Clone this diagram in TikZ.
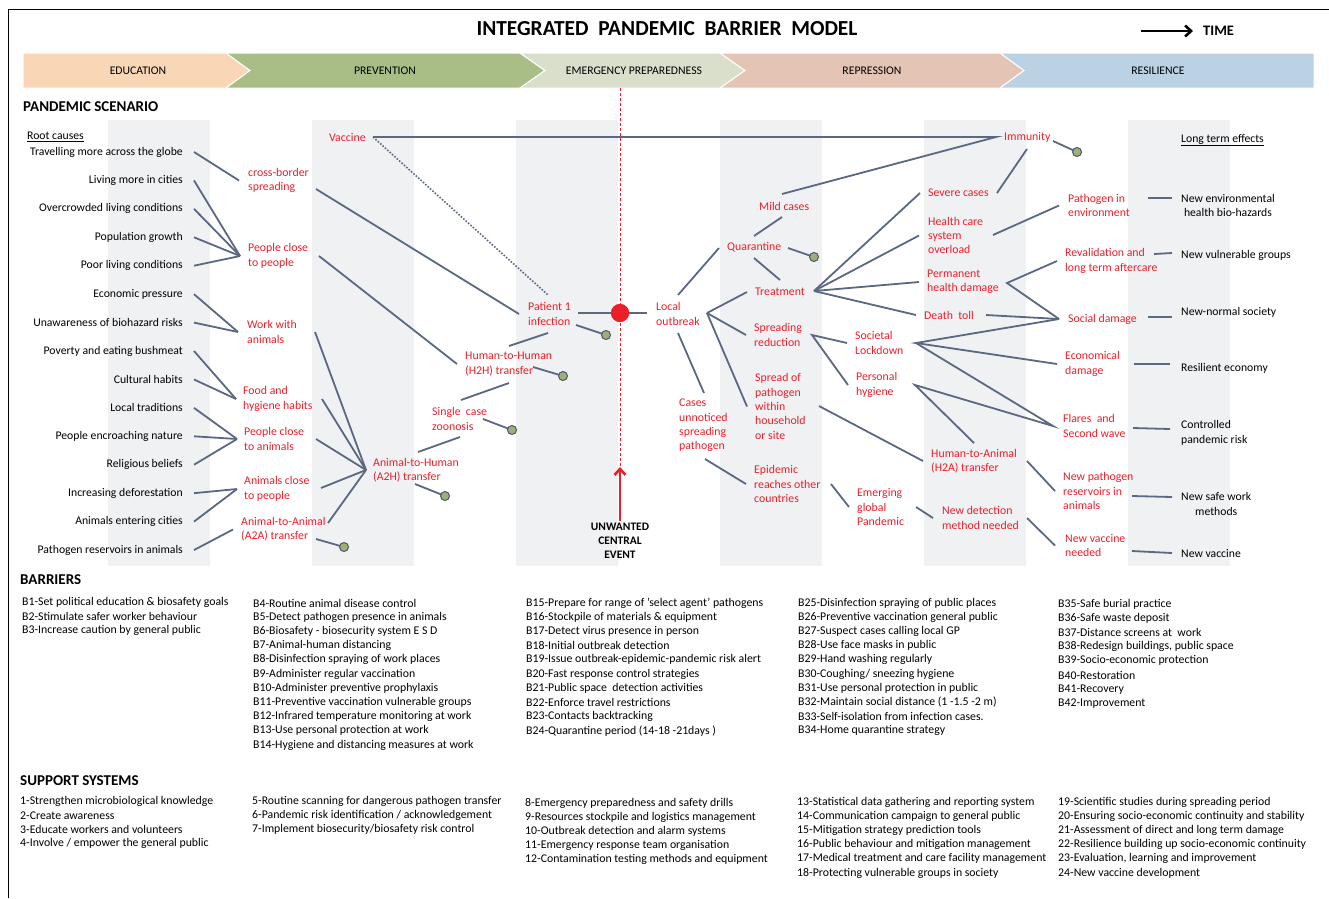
\documentclass[tikz,border=0pt]{standalone}
\usepackage{fontspec}
\setmainfont{Carlito}
\usetikzlibrary{arrows.meta,calc,positioning}

\definecolor{linkgray}{RGB}{90,104,130}
\definecolor{evred}{RGB}{236,30,40}
\definecolor{colgray}{RGB}{240,241,243}
\definecolor{eduC}{RGB}{248,214,182}
\definecolor{prevC}{RGB}{168,190,134}
\definecolor{emerC}{RGB}{217,223,203}
\definecolor{reprC}{RGB}{228,196,181}
\definecolor{resilC}{RGB}{186,210,228}
\definecolor{ballC}{RGB}{158,176,118}

\tikzset{
  link/.style={draw=linkgray, line width=1.8pt},
  cause/.style={anchor=east, inner sep=0pt, font=\fontsize{11.7}{14.3}\selectfont},
  event/.style={anchor=west, inner sep=0pt, align=left, text=evred, font=\fontsize{11.8}{14.4}\selectfont},
  effect/.style={anchor=west, inner sep=0pt, align=left, font=\fontsize{11.7}{14.3}\selectfont},
  ball/.style={circle, draw=linkgray!85!black, fill=ballC, line width=1pt, minimum size=9pt, inner sep=0pt},
  listtxt/.style={anchor=west, inner sep=0pt, font=\fontsize{11.8}{14.3}\selectfont},
  head/.style={anchor=west, inner sep=0pt, font=\fontsize{15}{18}\selectfont\bfseries},
  phase/.style={font=\fontsize{11.7}{14}\selectfont},
  band/.style={draw=white, line width=1pt}
}

\begin{document}
\begin{tikzpicture}[x=1pt, y=-1pt]
  \useasboundingbox (0,0) rectangle (1329,898);
  \draw[line width=0.8pt] (8,898) -- (8,9) -- (1329,9);

  % title and time line
  \node[font=\fontsize{21.4}{24}\selectfont\bfseries] (title) at (667,29) {INTEGRATED~ PANDEMIC~ BARRIER~ MODEL};
  \node[anchor=west, inner sep=0pt, font=\fontsize{14.5}{16}\selectfont\bfseries] (time) at (1203,31) {TIME};
  \coordinate (timeS) at (1141,31);
  \draw[line width=2.6pt, -{Straight Barb[length=6pt, width=11pt]}] (timeS) -- ([xshift=-10pt]time.west);

  % phases
  \fill[eduC, band] (23,53) -- (226,53) -- (250,70.5) -- (226,88) -- (23,88) -- cycle;
  \fill[prevC, band] (226,53) -- (520,53) -- (545,70.5) -- (520,88) -- (226,88) -- (250,70.5) -- cycle;
  \fill[emerC, band] (520,53) -- (720,53) -- (745,70.5) -- (720,88) -- (520,88) -- (545,70.5) -- cycle;
  \fill[reprC, band] (720,53) -- (1000,53) -- (1024,70.5) -- (1000,88) -- (720,88) -- (745,70.5) -- cycle;
  \fill[resilC, band] (1000,53) -- (1314,53) -- (1314,88) -- (1000,88) -- (1024,70.5) -- cycle;
  \node[phase] (phEdu) at (138,70.5) {EDUCATION};
  \node[phase] (phPrev) at (385,70.5) {PREVENTION};
  \node[phase] (phEmer) at (634,70.5) {EMERGENCY PREPAREDNESS};
  \node[phase] (phRepr) at (872,70.5) {REPRESSION};
  \node[phase] (phRes) at (1158,70.5) {RESILIENCE};

  \node[head] (scen) at (23,107) {PANDEMIC SCENARIO};
  \foreach \i in {0,...,5}
    \fill[colgray] ({108+204*\i},120) rectangle ++(102,446);

  % unwanted central event
  \draw[evred, line width=0.9pt, dash pattern=on 3pt off 2pt] (620,88) -- (620,470);
  \node[font=\fontsize{11.5}{14}\selectfont\bfseries, align=center, inner sep=0pt] (uce) at (620,541) {UNWANTED\\CENTRAL\\EVENT};
  \coordinate (uceTip) at (620,467);
  \draw[evred, line width=2.6pt, -{Straight Barb[length=6pt, width=11pt]}] ([yshift=2pt]uce.north) -- (uceTip);

  % root causes
  \node[effect] (rootc) at (27,137) {\underline{Root causes}};
  \foreach \t [count=\i] in {Travelling more across the globe, Living more in cities,
      Overcrowded living conditions, Population growth, Poor living conditions,
      Economic pressure, Unawareness of biohazard risks, Poverty and eating bushmeat,
      Cultural habits, Local traditions, People encroaching nature, Religious beliefs,
      Increasing deforestation, Animals entering cities, Pathogen reservoirs in animals}
    \node[cause] (c\i) at (183,{152+28.43*(\i-1)}) {\t};

  % events left of the central event
  \node[event] (cb) at (248,180.5) {cross-border\\spreading};
  \node[event] (ppl) at (248,256) {People close\\to people};
  \node[event] (wa) at (247,332) {Work with\\animals};
  \node[event] (fh) at (243,399) {Food and\\hygiene habits};
  \node[event] (pa) at (244,439) {People close\\to animals};
  \node[event] (ap) at (244,489) {Animals close\\to people};
  \node[event] (aa) at (241,529.5) {Animal-to-Animal\\(A2A) transfer};
  \node[event] (a2h) at (373,470) {Animal-to-Human\\(A2H) transfer};
  \node[event] (sgl) at (432,419) {Single~ case\\zoonosis};
  \node[event] (h2h) at (465,364) {Human-to-Human\\(H2H) transfer};
  \node[event] (pat) at (528,314) {Patient 1\\infection};
  \node[event] (vac) at (329,137) {Vaccine};

  % events right of the central event
  \node[event] (local) at (656,314) {Local\\outbreak};
  \node[event] (cases) at (679,425.5) {Cases\\unnoticed\\spreading\\pathogen};
  \node[event] (quar) at (727,247) {Quarantine};
  \node[event] (mild) at (759,206) {Mild cases};
  \node[event] (treat) at (755,292) {Treatment};
  \node[event] (spr) at (754,335) {Spreading\\reduction};
  \node[event] (sop) at (755,406.5) {Spread of\\pathogen\\within\\household\\or site};
  \node[event] (epi) at (754,484) {Epidemic\\reaches other\\countries};
  \node[event] (lock) at (855,343) {Societal\\Lockdown};
  \node[event] (hyg) at (856,385) {Personal\\hygiene};
  \node[event] (emg) at (857,507) {Emerging\\global\\Pandemic};
  \node[event] (severe) at (928,193) {Severe cases};
  \node[event] (hc) at (928,235.5) {Health care\\system\\overload};
  \node[event] (perm) at (927,282) {Permanent\\health damage};
  \node[event] (death) at (924,315) {Death~ toll};
  \node[event] (h2a) at (931,461) {Human-to-Animal\\(H2A) transfer};
  \node[event] (ndet) at (942,518) {New detection\\method needed};
  \node[event] (imm) at (1004,137) {Immunity};
  \node[event] (penv) at (1068,205.5) {Pathogen in\\environment};
  \node[event] (reval) at (1065,261) {Revalidation and\\long term aftercare};
  \node[event] (soc) at (1068,319) {Social damage};
  \node[event] (econ) at (1065,364) {Economical\\damage};
  \node[event] (flare) at (1063,426) {Flares~ and\\Second wave};
  \node[event] (npr) at (1063,491) {New pathogen\\reservoirs in\\animals};
  \node[event] (nvn) at (1065,545.5) {New vaccine\\needed};

  % long term effects
  \node[effect] (lte) at (1181,140) {\underline{Long term effects}};
  \node[effect, align=center] (e1) at (1181,205.5) {New environmental\\health bio-hazards};
  \node[effect] (e2) at (1181,255) {New vulnerable groups};
  \node[effect] (e3) at (1181,312) {New-normal society};
  \node[effect] (e4) at (1181,368) {Resilient economy};
  \node[effect] (e5) at (1181,433) {Controlled\\pandemic risk};
  \node[effect, align=center] (e6) at (1181,504) {New safe work\\methods};
  \node[effect] (e7) at (1181,554) {New vaccine};

  % hubs
  \coordinate (hCB) at ([xshift=-9pt]cb.west);
  \coordinate (hPP) at ([xshift=-8pt]ppl.west);
  \coordinate (hWA) at ([xshift=-9pt]wa.west);
  \coordinate (hFH) at ([xshift=-7pt]fh.west);
  \coordinate (hPA) at ([xshift=-7pt]pa.west);
  \coordinate (hAP) at ([xshift=-7pt]ap.west);
  \coordinate (hAA) at ([xshift=-8pt]aa.west);
  \coordinate (hA2H) at ([xshift=-7pt]a2h.west);
  \coordinate (hH2H) at ([xshift=-8pt]h2h.west);
  \coordinate (hPat) at ([xshift=-9pt]pat.west);
  \coordinate (hLocal) at (707,313);
  \coordinate (hEpi) at ([xshift=-8pt]epi.west);
  \coordinate (hImm) at ([xshift=-8pt]imm.west);
  \coordinate (hTreat) at (814,291);
  \coordinate (hSpr) at (812,335);
  \coordinate (hLock) at (916,343);
  \coordinate (hHyg) at (915,385);
  \coordinate (hPermR) at (1007,283);
  \coordinate (hSoc) at ([xshift=-9pt]soc.west);
  \coordinate (hFlare) at ([xshift=-10pt]flare.west);

  % free ends of connectors
  \foreach \n/\px/\py in {aW/315/332, aF/322/399, aP/316/439, aA/321/488, aAA/328/523,
      cbS/316/189, pplS/319/256, vacS/373/137, vacD/548/295,
      sglS/460/437, sglE/418/452, h2hS/509/383, h2hE/461/400, patS/548/333, patE/509/346,
      locQ/678/295, quarB/719/248, locC/678/333, casesT/704/393, casesE/705/459,
      mildT/782/194, immS/1027/149, sevT/997/193, mildB/782/217, quarT/754/236,
      quarD/754/258, treatT/780/280, hcE/993/235, penvE/1148/198, e1W/1172/198,
      revalE/1154/254, e2W/1172/253, deathE/986/315, socE/1148/317, e3W/1172/317,
      econE/1134/364, e4W/1170/364, flareE/1133/428, e5W/1170/429, sopE/819/406,
      hygD/974/443, h2aE/1027/461, nprE/1132/496, e6W/1172/497, epiE/831/484,
      emgE/916/507, ndetE/1027/518, nvnE/1132/551, e7W/1172/553,
      aaB/316/539, a2hB/415/484, sglB/483/419, h2hB/533/367, patB/576/325,
      quarS/788/248, immB/1053/141}
    \coordinate (\n) at (\px,\py);

  % root causes to events
  \foreach \i/\h in {1/hCB, 2/hPP, 3/hPP, 4/hPP, 5/hPP, 6/hWA, 7/hWA, 8/hFH, 9/hFH,
      10/hPA, 11/hPA, 12/hPA, 13/hAP, 14/hAP, 15/hAA}
    \draw[link] ([xshift=11pt]c\i.east) -- (\h);
  \foreach \s in {aW, aF, aP, aA, aAA}
    \draw[link] (\s) -- (hA2H);

  \draw[link] (cbS) -- (hPat);
  \draw[link] (pplS) -- (hH2H);
  \draw[link] (vacS) -- (hImm) -- (mildT);
  \draw[linkgray, line width=1.6pt, dash pattern=on 1.6pt off 1.6pt] (vacS) -- (vacD);
  \draw[link] (sglS) -- (sglE);
  \draw[link] (h2hS) -- (h2hE);
  \draw[link] (patS) -- (patE);

  % central event
  \node[circle, fill=evred, minimum size=18pt, inner sep=0pt] (ue) at (620,313) {};
  \draw[link] ([xshift=-42pt]ue.center) -- ([xshift=27pt]ue.center);
  \node[circle, fill=evred, minimum size=18pt, inner sep=0pt] (ueTop) at (ue) {};

  % right side
  \draw[link] (locQ) -- (quarB);
  \foreach \n in {treat, spr, sop}
    \draw[link] (hLocal) -- ([xshift=-8pt]\n.west);
  \draw[link] (locC) -- (casesT);
  \draw[link] (casesE) -- (hEpi);
  \draw[link] (immS) -- (sevT);
  \draw[link] (mildB) -- (quarT);
  \draw[link] (quarD) -- (treatT);
  \foreach \n/\d in {severe/8, hc/9, perm/8, death/8}
    \draw[link] (hTreat) -- ([xshift=-\d pt]\n.west);
  \draw[link] (hcE) -- ([xshift=-9pt]penv.west);
  \draw[link] (penvE) -- (e1W);
  \draw[link] ([xshift=-8pt]reval.west) -- (hPermR) -- (hSoc);
  \draw[link] (revalE) -- (e2W);
  \draw[link] (deathE) -- (hSoc);
  \draw[link] (socE) -- (e3W);
  \draw[link] ([xshift=-8pt]lock.west) -- (hSpr) -- ([xshift=-8pt]hyg.west);
  \draw[link] (hSoc) -- (hLock) -- ([xshift=-8pt]econ.west);
  \draw[link] (hLock) -- (hFlare) -- (hHyg) -- (hygD);
  \draw[link] (econE) -- (e4W);
  \draw[link] (flareE) -- (e5W);
  \draw[link] (sopE) -- ([xshift=-8pt]h2a.west);
  \draw[link] (h2aE) -- ([xshift=-8pt]npr.west);
  \draw[link] (nprE) -- (e6W);
  \draw[link] (epiE) -- ([xshift=-8pt]emg.west);
  \draw[link] (emgE) -- ([xshift=-9pt]ndet.west);
  \draw[link] (ndetE) -- ([xshift=-10pt]nvn.west);
  \draw[link] (nvnE) -- (e7W);

  % barrier balls
  \foreach \s/\px/\py in {aaB/344/547, a2hB/445/496, sglB/512/430, h2hB/563/376,
      patB/606/335, quarS/814/257, immB/1077/152} {
    \draw[link] (\s) -- (\px,\py);
    \node[ball] (b\s) at (\px,\py) {};
  }

  % barriers
  \node[head] (barH) at (20,580) {BARRIERS};
  \foreach \t [count=\i from 1] in {B1-Set political education \& biosafety goals,
      B2-Stimulate safer worker behaviour, B3-Increase caution by general public}
    \node[listtxt] (bar\i) at (22,{602+14.2*(\i-1)}) {\t};
  \foreach \t [count=\i from 4] in {B4-Routine animal disease control,
      B5-Detect pathogen presence in animals, B6-Biosafety - biosecurity system E S D,
      B7-Animal-human distancing, B8-Disinfection spraying of work places,
      B9-Administer regular vaccination, B10-Administer preventive prophylaxis,
      B11-Preventive vaccination vulnerable groups, B12-Infrared temperature monitoring at work,
      B13-Use personal protection at work, B14-Hygiene and distancing measures at work}
    \node[listtxt] (bar\i) at (253,{603+14.2*(\i-4)}) {\t};
  \foreach \t [count=\i from 15] in {B15-Prepare for range of 'select agent' pathogens,
      B16-Stockpile of materials \& equipment, B17-Detect virus presence in person,
      B18-Initial outbreak detection, B19-Issue outbreak-epidemic-pandemic risk alert,
      B20-Fast response control strategies, B21-Public space~ detection activities,
      B22-Enforce travel restrictions, B23-Contacts backtracking,
      B24-Quarantine period (14-18 -21days )}
    \node[listtxt] (bar\i) at (526,{603+14.2*(\i-15)}) {\t};
  \foreach \t [count=\i from 25] in {B25-Disinfection spraying of public places,
      B26-Preventive vaccination general public, B27-Suspect cases calling local GP,
      B28-Use face masks in public, B29-Hand washing regularly,
      B30-Coughing/ sneezing hygiene, B31-Use personal protection in public,
      B32-Maintain social distance (1 -1.5 -2 m), B33-Self-isolation from infection cases.,
      B34-Home quarantine strategy}
    \node[listtxt] (bar\i) at (798,{603+14.2*(\i-25)}) {\t};
  \foreach \t [count=\i from 35] in {B35-Safe burial practice, B36-Safe waste deposit,
      B37-Distance screens at~ work, {B38-Redesign buildings, public space},
      B39-Socio-economic protection, B40-Restoration, B41-Recovery, B42-Improvement}
    \node[listtxt] (bar\i) at (1058,{604+14.2*(\i-35)}) {\t};

  % support systems
  \node[head] (supH) at (20,781) {SUPPORT SYSTEMS};
  \foreach \t [count=\i from 1] in {1-Strengthen microbiological knowledge,
      2-Create awareness, 3-Educate workers and volunteers,
      4-Involve / empower the general public}
    \node[listtxt] (sup\i) at (20,{801+14.2*(\i-1)}) {\t};
  \foreach \t [count=\i from 5] in {5-Routine scanning for dangerous pathogen transfer,
      6-Pandemic risk identification / acknowledgement,
      7-Implement biosecurity/biosafety risk control}
    \node[listtxt] (sup\i) at (252,{801+14.2*(\i-5)}) {\t};
  \foreach \t [count=\i from 8] in {8-Emergency preparedness and safety drills,
      9-Resources stockpile and logistics management,
      10-Outbreak detection and alarm systems, 11-Emergency response team organisation,
      12-Contamination testing methods and equipment}
    \node[listtxt] (sup\i) at (525,{803+14.2*(\i-8)}) {\t};
  \foreach \t [count=\i from 13] in {13-Statistical data gathering and reporting system,
      14-Communication campaign to general public, 15-Mitigation strategy prediction tools,
      16-Public behaviour and mitigation management,
      17-Medical treatment and care facility management,
      18-Protecting vulnerable groups in society}
    \node[listtxt] (sup\i) at (797,{802+14.2*(\i-13)}) {\t};
  \foreach \t [count=\i from 19] in {19-Scientific studies during spreading period,
      20-Ensuring socio-economic continuity and stability,
      21-Assessment of direct and long term damage,
      22-Resilience building up socio-economic continuity,
      {23-Evaluation, learning and improvement}, 24-New vaccine development}
    \node[listtxt] (sup\i) at (1058,{802+14.2*(\i-19)}) {\t};
\end{tikzpicture}
\end{document}
